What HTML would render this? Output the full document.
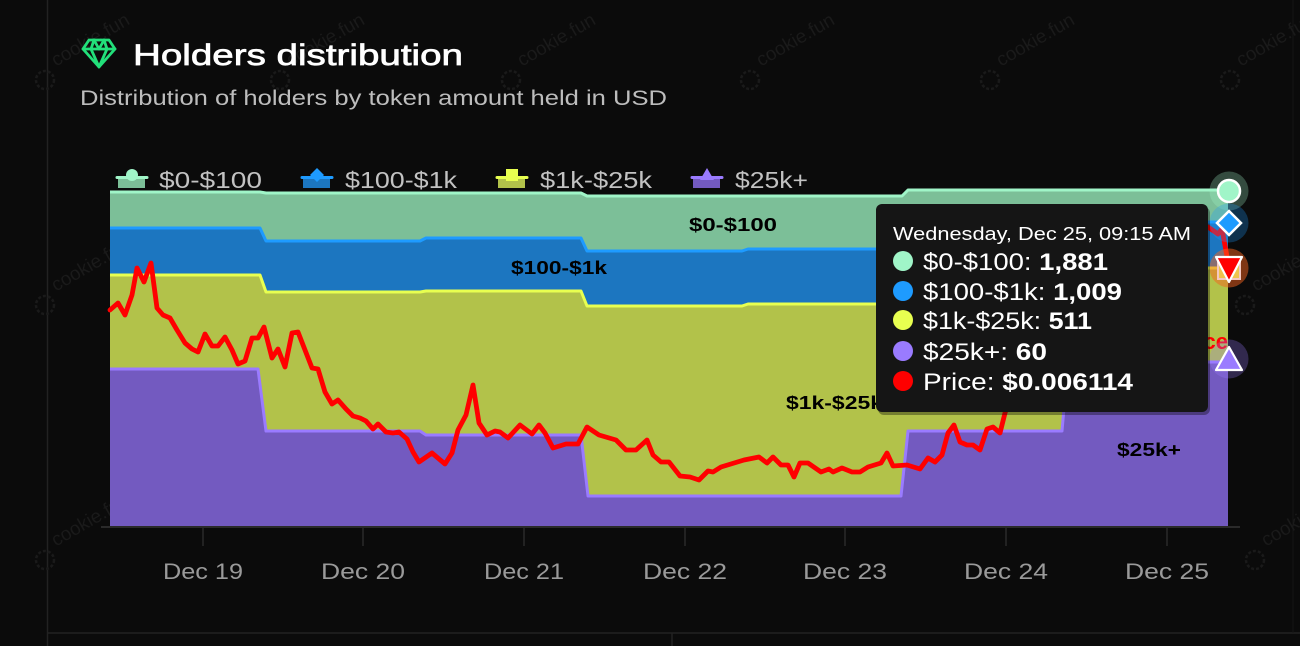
<!DOCTYPE html>
<html><head><meta charset="utf-8"><style>
html,body{margin:0;padding:0;background:#0b0b0b;}
svg{display:block;}
text{font-family:"Liberation Sans",sans-serif;}
</style></head><body>
<svg width="1300" height="646" viewBox="0 0 1300 646" xmlns="http://www.w3.org/2000/svg">
<rect width="1300" height="646" fill="#0b0b0b"/>
<!-- card borders -->
<line x1="47.5" y1="0" x2="47.5" y2="646" stroke="#222" stroke-width="1.5"/>
<line x1="47" y1="633" x2="1300" y2="633" stroke="#222" stroke-width="1.5"/>
<line x1="672" y1="633" x2="672" y2="646" stroke="#222" stroke-width="1.5"/>
<line x1="1293" y1="0" x2="1293" y2="633" stroke="#161616" stroke-width="1"/>
<!-- watermarks -->
<g fill="#1a1a1a" font-size="19" stroke="none">
<g transform="translate(45,80)"><circle r="9" fill="none" stroke="#1a1a1a" stroke-width="2.5" stroke-dasharray="3 2"/><text x="16" y="-6" transform="rotate(-30)">cookie.fun</text></g>
<g transform="translate(280,80)"><circle r="9" fill="none" stroke="#1a1a1a" stroke-width="2.5" stroke-dasharray="3 2"/><text x="16" y="-6" transform="rotate(-30)">cookie.fun</text></g>
<g transform="translate(511,80)"><circle r="9" fill="none" stroke="#1a1a1a" stroke-width="2.5" stroke-dasharray="3 2"/><text x="16" y="-6" transform="rotate(-30)">cookie.fun</text></g>
<g transform="translate(750,80)"><circle r="9" fill="none" stroke="#1a1a1a" stroke-width="2.5" stroke-dasharray="3 2"/><text x="16" y="-6" transform="rotate(-30)">cookie.fun</text></g>
<g transform="translate(990,80)"><circle r="9" fill="none" stroke="#1a1a1a" stroke-width="2.5" stroke-dasharray="3 2"/><text x="16" y="-6" transform="rotate(-30)">cookie.fun</text></g>
<g transform="translate(1230,80)"><circle r="9" fill="none" stroke="#1a1a1a" stroke-width="2.5" stroke-dasharray="3 2"/><text x="16" y="-6" transform="rotate(-30)">cookie.fun</text></g>
<g transform="translate(45,305)"><circle r="9" fill="none" stroke="#1a1a1a" stroke-width="2.5" stroke-dasharray="3 2"/><text x="16" y="-6" transform="rotate(-30)">cookie.fun</text></g>
<g transform="translate(1245,305)"><circle r="9" fill="none" stroke="#1a1a1a" stroke-width="2.5" stroke-dasharray="3 2"/><text x="16" y="-6" transform="rotate(-30)">cookie.fun</text></g>
<g transform="translate(45,560)"><circle r="9" fill="none" stroke="#1a1a1a" stroke-width="2.5" stroke-dasharray="3 2"/><text x="16" y="-6" transform="rotate(-30)">cookie.fun</text></g>
<g transform="translate(1255,560)"><circle r="9" fill="none" stroke="#1a1a1a" stroke-width="2.5" stroke-dasharray="3 2"/><text x="16" y="-6" transform="rotate(-30)">cookie.fun</text></g>
</g>
<!-- title icon (gem) -->
<g fill="none" stroke="#22e07a" stroke-width="2.8" stroke-linejoin="round" stroke-linecap="round">
<path d="M89,40 L109,40 L115,49 L99,67 L83,49 Z"/>
<path d="M83,49 L115,49"/>
<path d="M94,40 L91,49 L99,67 L107,49 L104,40"/>
<path d="M94,40 L99,49 L104,40"/>
</g>
<text x="133" y="65" font-size="30" fill="#ffffff" stroke="#ffffff" stroke-width="0.7" textLength="330" lengthAdjust="spacingAndGlyphs">Holders distribution</text>
<text x="80" y="105" font-size="21" fill="#bdbdbd" textLength="587" lengthAdjust="spacingAndGlyphs">Distribution of holders by token amount held in USD</text>

<!-- legend -->
<g>
<rect x="118" y="178" width="27" height="10" fill="#7cbf98"/>
<line x1="117" y1="177.5" x2="147" y2="177.5" stroke="#a0f5c8" stroke-width="3" stroke-linecap="round"/>
<circle cx="132" cy="175" r="6" fill="#a0f5c8"/>
<text x="159" y="188" font-size="23" fill="#c2c2c2" textLength="103" lengthAdjust="spacingAndGlyphs">$0-$100</text>

<rect x="303" y="178" width="27" height="10" fill="#1c76c0"/>
<line x1="302" y1="177.5" x2="332" y2="177.5" stroke="#1e9bff" stroke-width="3" stroke-linecap="round"/>
<path d="M317,168 L324,175 L317,182 L310,175 Z" fill="#1e9bff"/>
<text x="345" y="188" font-size="23" fill="#c2c2c2" textLength="112" lengthAdjust="spacingAndGlyphs">$100-$1k</text>

<rect x="498" y="178" width="27" height="10" fill="#b2c24a"/>
<line x1="497" y1="177.5" x2="527" y2="177.5" stroke="#e8ff50" stroke-width="3" stroke-linecap="round"/>
<rect x="506" y="169" width="12" height="12" fill="#e8ff50"/>
<text x="540" y="188" font-size="23" fill="#c2c2c2" textLength="112" lengthAdjust="spacingAndGlyphs">$1k-$25k</text>

<rect x="693" y="178" width="27" height="10" fill="#735ac0"/>
<line x1="692" y1="177.5" x2="722" y2="177.5" stroke="#9a7bff" stroke-width="3" stroke-linecap="round"/>
<path d="M707,168 L714,180 L700,180 Z" fill="#9a7bff"/>
<text x="735" y="188" font-size="23" fill="#c2c2c2" textLength="73" lengthAdjust="spacingAndGlyphs">$25k+</text>
</g>

<!-- stacked areas -->
<path d="M110,192 L260,192 L266,193 L420,193 L426,193 L581,193 L587,196 L742,196 L748,196 L902,196 L908,190 L1228,190 L1228,526 L110,526 Z" fill="#7cbf98"/>
<path d="M110,228 L260,228 L266,241 L420,241 L426,238 L581,238 L587,251 L742,251 L748,249 L902,249 L908,235 L1062,235 L1068,222 L1228,222 L1228,526 L110,526 Z" fill="#1c76c0"/>
<path d="M110,275 L260,275 L266,292 L420,292 L426,291 L581,291 L587,306 L742,306 L748,304 L902,304 L908,285 L1062,285 L1068,268 L1228,268 L1228,526 L110,526 Z" fill="#b2c24a"/>
<path d="M110,369 L258,369 L266,431 L420,431 L426,435 L581,435 L588,496 L742,496 L748,496 L901,496 L908,431 L1062,431 L1068,362 L1228,362 L1228,526 L110,526 Z" fill="#735ac0"/>
<g fill="none" stroke-width="3" stroke-linejoin="round">
<path d="M110,192 L260,192 L266,193 L420,193 L426,193 L581,193 L587,196 L742,196 L748,196 L902,196 L908,190 L1228,190" stroke="#a0f5c8"/>
<path d="M110,228 L260,228 L266,241 L420,241 L426,238 L581,238 L587,251 L742,251 L748,249 L902,249 L908,235 L1062,235 L1068,222 L1228,222" stroke="#1e9bff"/>
<path d="M110,275 L260,275 L266,292 L420,292 L426,291 L581,291 L587,306 L742,306 L748,304 L902,304 L908,285 L1062,285 L1068,268 L1228,268" stroke="#e8ff50"/>
<path d="M110,369 L258,369 L266,431 L420,431 L426,435 L581,435 L588,496 L742,496 L748,496 L901,496 L908,431 L1062,431 L1068,362 L1228,362" stroke="#9a7bff"/>
</g>

<!-- series labels -->
<g font-weight="bold" font-size="18" fill="#000">
<text x="689" y="231" textLength="88" lengthAdjust="spacingAndGlyphs">$0-$100</text>
<text x="511" y="274" textLength="96" lengthAdjust="spacingAndGlyphs">$100-$1k</text>
<text x="786" y="409" textLength="97" lengthAdjust="spacingAndGlyphs">$1k-$25k</text>
<text x="1117" y="456" textLength="64" lengthAdjust="spacingAndGlyphs">$25k+</text>
</g>
<text x="1228" y="349" text-anchor="end" font-weight="bold" font-size="22" fill="#ff0000">Price</text>

<!-- price line -->
<polyline fill="none" stroke="#ff0000" stroke-width="4.8" stroke-linejoin="round" stroke-linecap="round" points="110,310 118,303 125,315 132,295 137,268 144,282 151,263 157,308 163,315 170,318 177,330 185,343 192,349 198,352 205,334 212,346 218,346 225,337 232,350 238,364 245,361 252,338 258,338 264,327 272,358 278,349 285,367 292,333 298,332 305,350 312,368 318,369 325,392 332,404 338,400 346,409 353,416 360,418 366,421 373,429 378,424 386,432 393,433 399,432 407,439 413,452 419,462 432,453 445,464 452,453 458,430 466,415 473,385 479,423 487,435 495,431 500,432 508,438 520,425 532,434 539,425 545,433 553,448 566,444 578,444 587,427 599,435 616,440 626,450 636,450 647,440 653,455 661,462 669,462 680,476 690,477 699,480 708,471 713,472 721,467 744,460 759,457 767,463 773,457 781,465 788,465 794,477 800,463 808,463 821,472 829,469 833,472 842,468 852,472 860,472 868,467 881,463 887,453 893,466 907,465 920,469 928,458 935,462 942,455 948,433 954,425 960,442 967,445 973,445 980,450 987,429 993,427 1000,433 1005,413 1010,398 1030,360 1060,330 1100,300 1150,270 1190,240 1208,227 1218,234 1222,229 1228,262"/>

<!-- axis -->
<line x1="101" y1="527" x2="1240" y2="527" stroke="#2a2a2a" stroke-width="2"/>
<g stroke="#2a2a2a" stroke-width="1.5">
<line x1="203" y1="528" x2="203" y2="546"/>
<line x1="363" y1="528" x2="363" y2="546"/>
<line x1="524" y1="528" x2="524" y2="546"/>
<line x1="685" y1="528" x2="685" y2="546"/>
<line x1="845" y1="528" x2="845" y2="546"/>
<line x1="1006" y1="528" x2="1006" y2="546"/>
<line x1="1167" y1="528" x2="1167" y2="546"/>
</g>
<g font-size="22" fill="#9a9a9a" text-anchor="middle">
<text x="203" y="579" textLength="80" lengthAdjust="spacingAndGlyphs">Dec 19</text>
<text x="363" y="579" textLength="84" lengthAdjust="spacingAndGlyphs">Dec 20</text>
<text x="524" y="579" textLength="80" lengthAdjust="spacingAndGlyphs">Dec 21</text>
<text x="685" y="579" textLength="84" lengthAdjust="spacingAndGlyphs">Dec 22</text>
<text x="845" y="579" textLength="84" lengthAdjust="spacingAndGlyphs">Dec 23</text>
<text x="1006" y="579" textLength="84" lengthAdjust="spacingAndGlyphs">Dec 24</text>
<text x="1167" y="579" textLength="84" lengthAdjust="spacingAndGlyphs">Dec 25</text>
</g>

<!-- hover markers -->
<circle cx="1229" cy="191" r="19.5" fill="#a0f5c8" fill-opacity="0.28"/>
<circle cx="1229" cy="223" r="19.5" fill="#1e9bff" fill-opacity="0.28"/>
<circle cx="1229" cy="268" r="19.5" fill="#e8ff50" fill-opacity="0.28"/>
<circle cx="1229" cy="268" r="19.5" fill="#ff0000" fill-opacity="0.3"/>
<circle cx="1229" cy="359" r="19.5" fill="#9a7bff" fill-opacity="0.28"/>
<circle cx="1229" cy="191" r="11" fill="#a0f5c8" stroke="#fff" stroke-width="2.5"/>
<path d="M1229,211 L1241,223 L1229,235 L1217,223 Z" fill="#1e9bff" stroke="#fff" stroke-width="2.5"/>
<rect x="1218" y="257" width="22" height="22" fill="#efc34c" stroke="#f4c8c0" stroke-width="2"/>
<path d="M1216,257 L1242,257 L1229,282 Z" fill="#ff0000" stroke="#fff" stroke-width="2.2" stroke-linejoin="round"/>
<path d="M1229,347 L1242,370 L1216,370 Z" fill="#9a7bff" stroke="#fff" stroke-width="2.2" stroke-linejoin="round"/>

<!-- tooltip -->
<rect x="878" y="207" width="332" height="208" rx="6" fill="#000" fill-opacity="0.35"/>
<rect x="876" y="204" width="332" height="208" rx="6" fill="#151515"/>
<text x="893" y="240" font-size="18" fill="#ffffff" textLength="298" lengthAdjust="spacingAndGlyphs">Wednesday, Dec 25, 09:15 AM</text>
<circle cx="903" cy="261" r="10" fill="#a0f5c8"/>
<circle cx="903" cy="291" r="10" fill="#1e9bff"/>
<circle cx="903" cy="320" r="10" fill="#e8ff50"/>
<circle cx="903" cy="351" r="10" fill="#9a7bff"/>
<circle cx="903" cy="381" r="10" fill="#ff0000"/>
<g font-size="24" fill="#ffffff">
<text x="923" y="270" textLength="185" lengthAdjust="spacingAndGlyphs">$0-$100: <tspan font-weight="bold">1,881</tspan></text>
<text x="923" y="300" textLength="199" lengthAdjust="spacingAndGlyphs">$100-$1k: <tspan font-weight="bold">1,009</tspan></text>
<text x="923" y="329" textLength="169" lengthAdjust="spacingAndGlyphs">$1k-$25k: <tspan font-weight="bold">511</tspan></text>
<text x="923" y="360" textLength="124" lengthAdjust="spacingAndGlyphs">$25k+: <tspan font-weight="bold">60</tspan></text>
<text x="923" y="390" textLength="210" lengthAdjust="spacingAndGlyphs">Price: <tspan font-weight="bold">$0.006114</tspan></text>
</g>
</svg>
</body></html>
